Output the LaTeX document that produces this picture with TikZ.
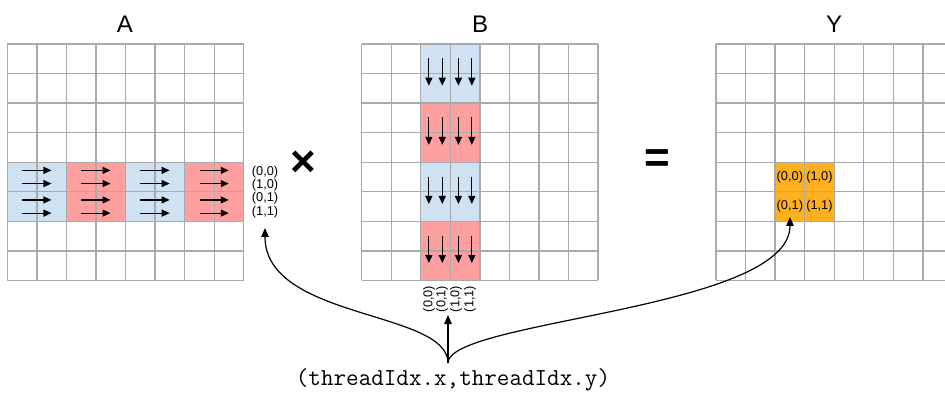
\documentclass[tikz,border=0pt]{standalone}
\usepackage{fontspec}
\setmainfont{Liberation Sans}
\usetikzlibrary{arrows.meta}

\definecolor{cellblue}{RGB}{207,226,243}
\definecolor{cellred}{RGB}{255,160,160}
\definecolor{cellorange}{RGB}{255,176,30}
\definecolor{gridgray}{RGB}{170,170,170}

% cell size and grid origins (x), all grids start at the same top edge
\newcommand{\cw}{29.55}
\newcommand{\gtop}{44}
\newcommand{\ax}{7.3}
\newcommand{\bx}{361.7}
\newcommand{\yx}{716}

% an 8x8 grid whose left edge is at #1
\newcommand{\gridat}[1]{%
  \foreach \i in {0,...,8}{%
    \draw[gridline] (#1+\i*\cw,\gtop) -- ++(0,8*\cw);
    \draw[gridline] (#1,\gtop+\i*\cw) -- ++(8*\cw,0);
  }%
}

\begin{document}
\begin{tikzpicture}[x=1pt,y=-1pt,
  gridline/.style={draw=gridgray,line width=1.3pt},
  flow/.style={line width=1.2pt,-{Triangle[length=8pt,width=7pt]}},
  link/.style={line width=1.2pt,-{Triangle[length=9pt,width=7.5pt]}},
  title/.style={font=\fontsize{24}{28}\selectfont,anchor=base,inner sep=0pt},
  idx/.style={font=\fontsize{12.8}{14}\selectfont,inner sep=0pt},
  op/.style={font=\bfseries\fontsize{44}{50}\selectfont,inner sep=0pt},
]
\useasboundingbox (0,0) rectangle (945,398);

% ---- titles ----
\node[title] (tA) at (125,32.3) {A};
\node[title] (tB) at (480,32.3) {B};
\node[title] (tY) at (834,32.3) {Y};

% ---- A: two rows split into four 2x2 blocks ----
\foreach \b/\c in {0/cellblue,1/cellred,2/cellblue,3/cellred}{
  \fill[\c] (\ax+\b*2*\cw,\gtop+4*\cw) rectangle ++(2*\cw,2*\cw);
}
% ---- B: two columns split into four 2x2 blocks ----
\foreach \b/\c in {0/cellblue,1/cellred,2/cellblue,3/cellred}{
  \fill[\c] (\bx+2*\cw,\gtop+\b*2*\cw) rectangle ++(2*\cw,2*\cw);
}
% ---- Y: one 2x2 output block ----
\fill[cellorange] (\yx+2*\cw,\gtop+4*\cw) rectangle ++(2*\cw,2*\cw);

\gridat{\ax}
\gridat{\bx}
\gridat{\yx}

% ---- A: horizontal sweep arrows ----
\foreach \b in {0,...,3}{
  \foreach \r in {4,5}{
    \foreach \o in {-6.6,6.6}{
      \draw[flow] (\ax+\b*2*\cw+\cw-14.6,\gtop+\r*\cw+\cw/2+\o) -- ++(29.2,0);
    }
  }
}
% ---- B: vertical sweep arrows ----
\foreach \b in {0,...,3}{
  \foreach \c in {2,3}{
    \foreach \o in {-6.7,6.7}{
      \draw[flow] (\bx+\c*\cw+\cw/2+\o,\gtop+\b*2*\cw+\cw-15.2) -- ++(0,27.4);
    }
  }
}

% ---- thread index labels ----
\node[idx,anchor=west] (la00) at (251.7,172.3) {(0,0)};
\node[idx,anchor=west] (la10) at (251.7,185.0) {(1,0)};
\node[idx,anchor=west] (la01) at (251.7,198.3) {(0,1)};
\node[idx,anchor=west] (la11) at (251.7,211.7) {(1,1)};

\node[idx,rotate=90] (lb00) at (429,299) {(0,0)};
\node[idx,rotate=90] (lb01) at (442,299) {(0,1)};
\node[idx,rotate=90] (lb10) at (456,299) {(1,0)};
\node[idx,rotate=90] (lb11) at (470,299) {(1,1)};

\node[idx] (ly00) at (\yx+2.5*\cw,\gtop+4.5*\cw) {(0,0)};
\node[idx] (ly10) at (\yx+3.5*\cw,\gtop+4.5*\cw) {(1,0)};
\node[idx] (ly01) at (\yx+2.5*\cw,\gtop+5.5*\cw) {(0,1)};
\node[idx] (ly11) at (\yx+3.5*\cw,\gtop+5.5*\cw) {(1,1)};

% ---- operators ----
\node[op] (times) at (303.3,164) {×};
\node[op] (equals) at (657,161) {=};

% ---- thread index source and its three links ----
\node[font=\ttfamily\fontsize{24.4}{28}\selectfont,anchor=base,inner sep=0pt]
  (tid) at (453,385) {(threadIdx.x,threadIdx.y)};
\coordinate (fork) at (448,363);
\coordinate (aimA) at (265,228);
\coordinate (aimB) at (448,315);
\coordinate (aimY) at (790,217);

\draw[link] (fork) -- (aimB);
\draw[link] (fork) .. controls (448,310) and (265,320) .. (aimA);
\draw[link] (fork) .. controls (448,320) and (790,310) .. (aimY);
\end{tikzpicture}
\end{document}
